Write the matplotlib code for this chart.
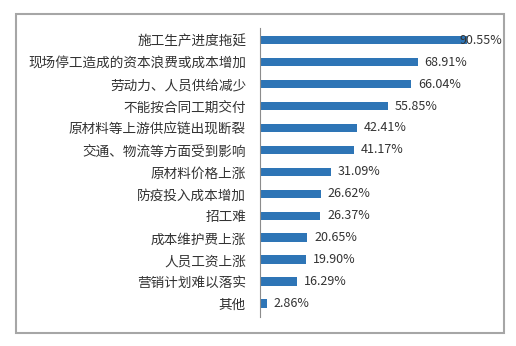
import matplotlib.pyplot as plt
from matplotlib.patches import Rectangle

plt.rcParams['font.family'] = ['Noto Sans CJK SC', 'DejaVu Sans']

categories = ["施工生产进度拖延", "现场停工造成的资本浪费或成本增加", "劳动力、人员供给减少",
              "不能按合同工期交付", "原材料等上游供应链出现断裂", "交通、物流等方面受到影响",
              "原材料价格上涨", "防疫投入成本增加", "招工难", "成本维护费上涨",
              "人员工资上涨", "营销计划难以落实", "其他"]
values = [90.55, 68.91, 66.04, 55.85, 42.41, 41.17, 31.09, 26.62, 26.37, 20.65, 19.90, 16.29, 2.86]

W, H = 516, 346
fig = plt.figure(figsize=(W / 100, H / 100), dpi=100)

# grey frame around the chart
fig.patches.append(Rectangle((16 / W, 1 - 333 / H), 488 / W, 319 / H,
                             transform=fig.transFigure, fill=False,
                             edgecolor="#a6a6a6", linewidth=1.5))

ax = fig.add_axes([260 / W, 1 - 317 / H, 229 / W, 289 / H])
y = list(range(len(categories)))
ax.barh(y, values, height=0.4, color="#2e75b6")
ax.set_ylim(12.6, -0.55)
ax.set_xlim(0, 100)

for yi, v in zip(y, values):
    ax.text(min(v + 3, 87.2), yi, f"{v:.2f}%", va="center", ha="left",
            fontsize=9, color="#333333")

ax.set_yticks(y)
ax.set_yticklabels(categories, fontsize=9.8, color="#333333")
ax.tick_params(axis="y", length=0, pad=10)
ax.set_xticks([])
for s in ["top", "right", "bottom"]:
    ax.spines[s].set_visible(False)
ax.spines["left"].set_color("#8c8c8c")
ax.spines["left"].set_linewidth(0.8)

fig.savefig("out.png", dpi=100)
